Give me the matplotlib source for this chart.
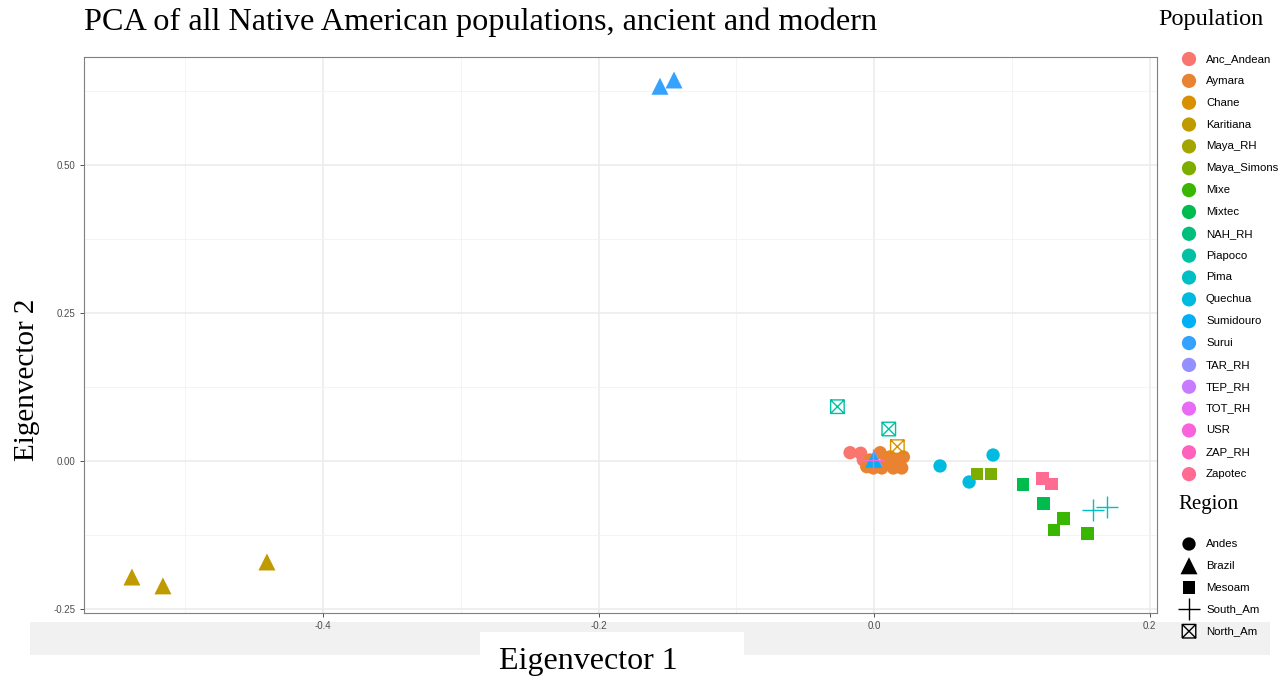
import matplotlib
matplotlib.use("Agg")
import matplotlib.pyplot as plt
from matplotlib.path import Path
from matplotlib.patches import Rectangle
from matplotlib.ticker import MultipleLocator, FormatStrFormatter

# ---- data -------------------------------------------------------------
populations = ["Anc_Andean", "Aymara", "Chane", "Karitiana", "Maya_RH",
               "Maya_Simons", "Mixe", "Mixtec", "NAH_RH", "Piapoco", "Pima",
               "Quechua", "Sumidouro", "Surui", "TAR_RH", "TEP_RH", "TOT_RH",
               "USR", "ZAP_RH", "Zapotec"]
pop_colors = ["#F8766D", "#EA8331", "#D89000", "#C09B00", "#A3A500",
              "#7CAE00", "#39B600", "#00BB4E", "#00BF7D", "#00C1A3",
              "#00BFC4", "#00BAE0", "#00B0F6", "#35A2FF", "#9590FF",
              "#C77CFF", "#E76BF3", "#FA62DB", "#FF62BC", "#FF6C91"]
regions = ["Andes", "Brazil", "Mesoam", "South_Am", "North_Am"]

sample_pop = ["Anc_Andean", "Anc_Andean", "Anc_Andean",
              "Aymara", "Aymara", "Aymara", "Aymara", "Aymara", "Aymara",
              "Aymara", "Aymara", "Aymara", "Aymara", "Aymara",
              "Quechua", "Quechua", "Quechua",
              "Karitiana", "Karitiana", "Karitiana",
              "Surui", "Surui",
              "TAR_RH", "Sumidouro",
              "Maya_Simons", "Maya_Simons",
              "Mixtec", "Mixtec",
              "Mixe", "Mixe", "Mixe",
              "Zapotec", "Zapotec",
              "Pima", "Pima", "USR",
              "Piapoco", "Piapoco", "Chane"]
sample_region = ["Andes", "Andes", "Andes",
                 "Andes", "Andes", "Andes", "Andes", "Andes", "Andes",
                 "Andes", "Andes", "Andes", "Andes", "Andes",
                 "Andes", "Andes", "Andes",
                 "Brazil", "Brazil", "Brazil",
                 "Brazil", "Brazil",
                 "Brazil", "Brazil",
                 "Mesoam", "Mesoam",
                 "Mesoam", "Mesoam",
                 "Mesoam", "Mesoam", "Mesoam",
                 "Mesoam", "Mesoam",
                 "South_Am", "South_Am", "South_Am",
                 "North_Am", "North_Am", "North_Am"]
pc1 = [-0.0174, -0.0097, -0.0078,
       0.0044, 0.0116, 0.0213, -0.0005, 0.0056, 0.0140, 0.0201, 0.0165,
       0.0092, -0.0053, -0.0030,
       0.0479, 0.0690, 0.0864,
       -0.5387, -0.5162, -0.4407,
       -0.1554, -0.1452,
       0.0004, -0.0003,
       0.0748, 0.0849,
       0.1082, 0.1229,
       0.1374, 0.1307, 0.1549,
       0.1224, 0.1290,
       0.1588, 0.1694, -0.0005,
       -0.0266, 0.0107, 0.0169]
pc2 = [0.0140, 0.0131, 0.0017,
       0.0140, 0.0068, 0.0068, -0.0118, -0.0118, -0.0118, -0.0118, 0.0017,
       -0.0012, -0.0096, 0.0017,
       -0.0084, -0.0355, 0.0101,
       -0.1960, -0.2110, -0.1706,
       0.6330, 0.6436,
       0.0032, 0.0028,
       -0.0220, -0.0220,
       -0.0394, -0.0721,
       -0.0975, -0.1166, -0.1228,
       -0.0293, -0.0389,
       -0.0828, -0.0782, 0.0010,
       0.0917, 0.0540, 0.0242]

# ---- marker styles per region ------------------------------------------
box_x = Path([(-1, -1), (1, -1), (1, 1), (-1, 1), (-1, -1),
              (-1, -1), (1, 1), (-1, 1), (1, -1)],
             [Path.MOVETO, Path.LINETO, Path.LINETO, Path.LINETO, Path.LINETO,
              Path.MOVETO, Path.LINETO, Path.MOVETO, Path.LINETO])
region_marker = {"Andes": "o", "Brazil": "^", "Mesoam": "s",
                 "South_Am": "+", "North_Am": box_x}
region_size = {"Andes": 92, "Brazil": 150, "Mesoam": 84,
               "South_Am": 260, "North_Am": 95}
filled = {"Andes": True, "Brazil": True, "Mesoam": True,
          "South_Am": False, "North_Am": False}

color_of = dict(zip(populations, pop_colors))

W, H = 1288, 681
fig = plt.figure(figsize=(W / 100, H / 100), dpi=100)
fig.patch.set_facecolor("white")

serif = ["Liberation Serif", "DejaVu Serif"]
sans = ["Liberation Sans", "DejaVu Sans"]

# light band behind the x tick labels
fig.patches.append(Rectangle((30 / W, 1 - 655 / H), 1240 / W, 33 / H,
                             transform=fig.transFigure, facecolor="#F1F1F1",
                             edgecolor="none", zorder=-2))
fig.patches.append(Rectangle((480 / W, 0), 264 / W, 1 - 632 / H,
                             transform=fig.transFigure, facecolor="white",
                             edgecolor="none", zorder=-1))

ax = fig.add_axes([84 / W, 1 - 613 / H, (1157 - 84) / W, (613 - 57) / H])
ax.set_facecolor("none")
ax.set_xlim(-0.5735, 0.2054)
ax.set_ylim(-0.2568, 0.6824)

ax.xaxis.set_major_locator(MultipleLocator(0.2))
ax.xaxis.set_minor_locator(MultipleLocator(0.1))
ax.yaxis.set_major_locator(MultipleLocator(0.25))
ax.yaxis.set_minor_locator(MultipleLocator(0.125))
ax.xaxis.set_major_formatter(FormatStrFormatter("%.1f"))
ax.yaxis.set_major_formatter(FormatStrFormatter("%.2f"))
ax.grid(which="major", color="#EBEBEB", lw=1.1)
ax.grid(which="minor", color="#F2F2F2", lw=0.6)
ax.set_axisbelow(True)
ax.tick_params(which="major", length=3, width=0.6, color="#333333",
               labelsize=7, labelcolor="#4D4D4D", pad=3)
ax.tick_params(which="minor", length=0)
for lab in ax.get_xticklabels() + ax.get_yticklabels():
    lab.set_family(sans)
for sp in ax.spines.values():
    sp.set_color("#7F7F7F")
    sp.set_linewidth(0.8)

for x, y, p, r in zip(pc1, pc2, sample_pop, sample_region):
    c = color_of[p]
    if filled[r]:
        ax.scatter([x], [y], marker=region_marker[r], s=region_size[r],
                   color=c, edgecolors="none", zorder=3)
    else:
        ax.scatter([x], [y], marker=region_marker[r], s=region_size[r],
                   facecolors="none" if r == "North_Am" else c,
                   edgecolors=c, linewidths=1.0, zorder=3)

fig.text(84 / W, 1 - 30 / H,
         "PCA of all Native American populations, ancient and modern",
         family=serif, fontsize=23.2, ha="left", va="baseline")
fig.text(588 / W, 1 - 661 / H, "Eigenvector 1", family=serif, fontsize=23,
         ha="center", va="center")
fig.text(27 / W, 1 - 380 / H, "Eigenvector 2", family=serif, fontsize=21,
         ha="center", va="center", rotation=90)

# ---- legends -----------------------------------------------------------
lg = fig.add_axes([0, 0, 1, 1], facecolor="none")
lg.set_xlim(0, W)
lg.set_ylim(H, 0)
lg.axis("off")

lg.text(1158, 19, "Population", family=serif, fontsize=17.5,
        ha="left", va="center")
for i, (p, c) in enumerate(zip(populations, pop_colors)):
    yy = 59 + i * 21.85
    lg.scatter([1189], [yy], s=105, color=c, edgecolors="none")
    lg.text(1206, yy, p, family=sans, fontsize=8.2, ha="left", va="center")

lg.text(1178, 505, "Region", family=serif, fontsize=15,
        ha="left", va="center")
for i, r in enumerate(regions):
    yy = 544 + i * 21.8
    if filled[r]:
        lg.scatter([1189], [yy], marker=region_marker[r], s=region_size[r],
                   color="black", edgecolors="none")
    else:
        lg.scatter([1189], [yy], marker=region_marker[r], s=region_size[r],
                   facecolors="none" if r == "North_Am" else "black",
                   edgecolors="black", linewidths=1.0)
    lg.text(1206, yy, r, family=sans, fontsize=8.2, ha="left", va="center")

fig.savefig("out.png", dpi=100)
